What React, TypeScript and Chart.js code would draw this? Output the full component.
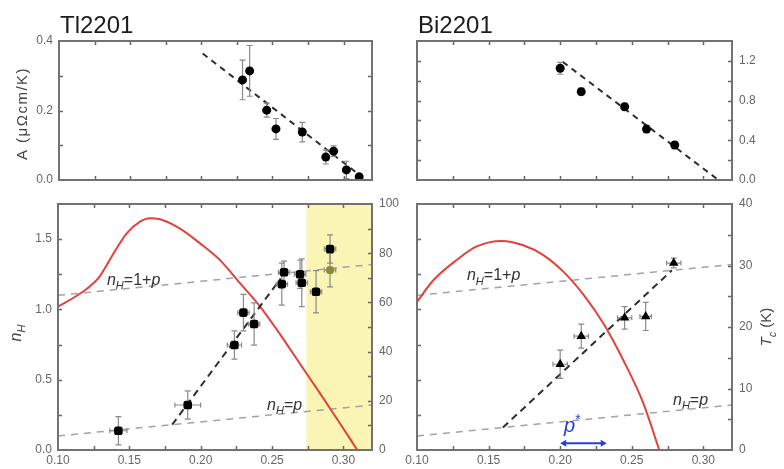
import React, { useEffect, useRef } from "react";
import { Chart, registerables } from "chart.js";

Chart.register(...registerables);

const FONT = "'Liberation Sans', Arial, Helvetica, sans-serif";
const W = 784;
const H = 469;

// ---------------- data ----------------
const pRange = [0.1, 0.32];

// Tl2201, A coefficient
const tlP = [0.229, 0.234, 0.246, 0.2525, 0.271, 0.2875, 0.293, 0.302, 0.311];
const tlA = [0.288, 0.314, 0.201, 0.147, 0.138, 0.066, 0.083, 0.029, 0.009];
const tlAErr = [0.057, 0.073, 0.02, 0.03, 0.028, 0.02, 0.015, 0.025, 0.008];
const tlFitP = [0.201, 0.312];
const tlFitA = [0.364, 0.012];

// Bi2201, A coefficient
const trP = [0.2, 0.2147, 0.245, 0.2603, 0.28];
const trA = [1.125, 0.89, 0.738, 0.513, 0.352];
const trAErr = [0.06, 0.035, 0.035, 0.035, 0.035];
const trFitP = [0.2018, 0.3105];
const trFitA = [1.19, 0.0];

// Tl2201, nH
const blP = [0.1423, 0.1909, 0.2236, 0.2299, 0.2374, 0.2568, 0.2584, 0.2696, 0.2708, 0.2808, 0.2906];
const blN = [0.137, 0.32, 0.747, 0.977, 0.896, 1.18, 1.264, 1.25, 1.19, 1.126, 1.43];
const blNErr = [0.1, 0.1, 0.1, 0.13, 0.15, 0.15, 0.08, 0.1, 0.17, 0.15, 0.1];
const blPErr = [0.006, 0.009, 0.005, 0.004, 0.004, 0.004, 0.004, 0.004, 0.004, 0.004, 0.004];
const blOliveP = [0.2906];
const blOliveN = [1.28];
const blOliveNErr = [0.12];
const blOlivePErr = [0.004];
const blTcP = [0.1, 0.114, 0.122, 0.129, 0.139, 0.148, 0.1575, 0.1645, 0.1715, 0.1855, 0.1995, 0.2135, 0.2275, 0.2416, 0.2556, 0.2696, 0.2836, 0.2976, 0.3097];
const blTc = [58.3, 63, 66.4, 70.4, 80, 88, 92.8, 94.2, 93.8, 90, 84, 77.2, 67.8, 58.3, 47, 35, 23, 10.8, 0];
const blFitP = [0.18, 0.256];
const blFitN = [0.18, 1.22];
const blBandStart = 0.274;

// Bi2201, nH
const brP = [0.2, 0.2147, 0.245, 0.2597, 0.2793];
const brN = [0.61, 0.81, 0.94, 0.95, 1.33];
const brNErr = [0.1, 0.085, 0.08, 0.1, 0.035];
const brPErr = [0.005, 0.005, 0.005, 0.004, 0.005];
const brTcP = [0.1, 0.1114, 0.1277, 0.1417, 0.159, 0.1742, 0.1882, 0.2022, 0.2161, 0.2301, 0.2441, 0.2581, 0.2692];
const brTc = [24.1, 27.6, 30.9, 33.1, 34.0, 33.3, 31.7, 29.0, 25.3, 20.6, 14.6, 7.6, 0];
const brFitP = [0.16, 0.278];
const brFitN = [0.16, 1.278];
const pStarRange = [0.2, 0.2325];

// guide lines nH = 1 + p and nH = p
const guideP = [0.1, 0.32];
const guideOnePlusP = [1.1, 1.32];
const guideEqualP = [0.1, 0.32];

// ticks
const xTickLabels = [0.1, 0.15, 0.2, 0.25, 0.3];
const xTickMarks = [0.125, 0.15, 0.175, 0.2, 0.225, 0.25, 0.275, 0.3];
const tlYLabels = [0, 0.2, 0.4];
const tlYMarks = [0.1, 0.2, 0.3];
const trYLabels = [0, 0.4, 0.8, 1.2];
const trYMarks = [0.2, 0.4, 0.6, 0.8, 1.0, 1.2];
const nHLabels = [0, 0.5, 1.0, 1.5];
const nHMarks = [0.25, 0.5, 0.75, 1.0, 1.25, 1.5];
const tcTlLabels = [0, 20, 40, 60, 80, 100];
const tcTlMarks = [10, 20, 30, 40, 50, 60, 70, 80, 90];
const tcBiLabels = [0, 10, 20, 30, 40];
const tcBiMarks = [5, 10, 15, 20, 25, 30, 35];

// ---------------- helpers ----------------
const xy = (xs: number[], ys: number[]) => xs.map((x, i) => ({ x, y: ys[i] }));

type Seg = { t: string; it?: boolean; sub?: boolean; sup?: boolean };

function rich(
  ctx: CanvasRenderingContext2D,
  segs: Seg[],
  x: number,
  y: number,
  size: number,
  color: string,
  align: "left" | "center" = "left",
  rot = 0,
  vOff = 0,
  spacing = 0
) {
  ctx.save();
  ctx.translate(x, y);
  ctx.rotate(rot);
  ctx.fillStyle = color;
  ctx.textBaseline = "alphabetic";
  ctx.textAlign = "left";
  (ctx as any).letterSpacing = `${spacing}px`;
  const fontOf = (s: Seg) => `${s.it ? "italic " : ""}${s.sub || s.sup ? Math.round(size * 0.68) : size}px ${FONT}`;
  let total = 0;
  const widths = segs.map((s) => {
    ctx.font = fontOf(s);
    const w = ctx.measureText(s.t).width;
    total += w;
    return w;
  });
  let cx = align === "center" ? -total / 2 : 0;
  segs.forEach((s, i) => {
    ctx.font = fontOf(s);
    const dy = s.sub ? size * 0.28 : s.sup ? -size * 0.42 : 0;
    ctx.fillText(s.t, cx, vOff + dy);
    cx += widths[i];
  });
  ctx.restore();
}

type Axis = { id: string; min: number; max: number; labels: number[] | null; dec: number; marks: number[] };

type Spec = {
  area: { l: number; t: number; r: number; b: number };
  xLabels: boolean;
  left: Axis;
  right: Axis;
  rightIsLeft?: boolean;
  band?: number;
  datasets: any[];
  texts: (chart: any, ctx: CanvasRenderingContext2D) => void;
};

const AXW = 40;
const AXH = 19;
const TICKCOL = "#666";

function yScaleCfg(ax: Axis, pos: "left" | "right") {
  return {
    type: "linear",
    position: pos,
    min: ax.min,
    max: ax.max,
    grid: { display: false, drawTicks: false },
    border: { display: false },
    ticks: {
      display: !!ax.labels,
      padding: pos === "left" ? 6 : 7,
      color: TICKCOL,
      font: { family: FONT, size: 12 },
      callback: (v: any) => Number(v).toFixed(ax.dec),
    },
    afterBuildTicks: (s: any) => {
      s.ticks = (ax.labels || [ax.min, ax.max]).map((v) => ({ value: v }));
    },
    afterFit: (s: any) => {
      s.width = ax.labels ? AXW : 0;
    },
  };
}

function makeConfig(spec: Spec): any {
  const { l, t, r, b } = spec.area;
  const scales: any = {
    x: {
      type: "linear",
      position: "bottom",
      min: pRange[0],
      max: pRange[1],
      grid: { display: false, drawTicks: false },
      border: { display: false },
      ticks: {
        display: spec.xLabels,
        padding: 3,
        color: TICKCOL,
        font: { family: FONT, size: 12 },
        callback: (v: any) => Number(v).toFixed(2),
      },
      afterBuildTicks: (s: any) => {
        s.ticks = xTickLabels.map((v) => ({ value: v }));
      },
      afterFit: (s: any) => {
        s.height = spec.xLabels ? AXH : 0;
      },
    },
  };
  let leftW = 0;
  let rightW = 0;
  if (spec.left.id === spec.right.id) {
    const pos = spec.rightIsLeft ? "right" : "left";
    const ax = pos === "left" ? spec.left : spec.right;
    scales[ax.id] = yScaleCfg(ax, pos);
    if (pos === "left") leftW = ax.labels ? AXW : 0;
    else rightW = ax.labels ? AXW : 0;
  } else {
    scales[spec.left.id] = yScaleCfg(spec.left, "left");
    scales[spec.right.id] = yScaleCfg(spec.right, "right");
    leftW = spec.left.labels ? AXW : 0;
    rightW = spec.right.labels ? AXW : 0;
  }

  const decor = {
    id: "decor",
    beforeDatasetsDraw(chart: any) {
      if (spec.band === undefined) return;
      const ctx = chart.ctx;
      const a = chart.chartArea;
      const x0 = chart.scales.x.getPixelForValue(spec.band);
      ctx.save();
      ctx.fillStyle = "#faf5b4";
      ctx.fillRect(x0, a.top, a.right - x0, a.bottom - a.top);
      ctx.restore();
    },
    beforeDatasetDraw(chart: any, args: any) {
      const ds = chart.data.datasets[args.index];
      if (!ds.yErr && !ds.xErr) return;
      const ctx = chart.ctx;
      const xs = chart.scales[args.meta.xAxisID];
      const ys = chart.scales[args.meta.yAxisID];
      ctx.save();
      ctx.strokeStyle = "#8a8a8a";
      ctx.lineWidth = 1.2;
      ds.data.forEach((d: any, i: number) => {
        const px = xs.getPixelForValue(d.x);
        const py = ys.getPixelForValue(d.y);
        ctx.beginPath();
        if (ds.yErr) {
          const y1 = ys.getPixelForValue(d.y + ds.yErr[i]);
          const y2 = ys.getPixelForValue(d.y - ds.yErr[i]);
          ctx.moveTo(px, y1);
          ctx.lineTo(px, y2);
          ctx.moveTo(px - 3, y1);
          ctx.lineTo(px + 3, y1);
          ctx.moveTo(px - 3, y2);
          ctx.lineTo(px + 3, y2);
        }
        if (ds.xErr) {
          const x1 = xs.getPixelForValue(d.x - ds.xErr[i]);
          const x2 = xs.getPixelForValue(d.x + ds.xErr[i]);
          ctx.moveTo(x1, py);
          ctx.lineTo(x2, py);
          ctx.moveTo(x1, py - 2.5);
          ctx.lineTo(x1, py + 2.5);
          ctx.moveTo(x2, py - 2.5);
          ctx.lineTo(x2, py + 2.5);
        }
        ctx.stroke();
      });
      ctx.restore();
    },
    afterDraw(chart: any) {
      const ctx: CanvasRenderingContext2D = chart.ctx;
      const a = chart.chartArea;
      ctx.save();
      ctx.strokeStyle = "#666";
      ctx.lineWidth = 1.5;
      ctx.beginPath();
      const xs = chart.scales.x;
      xTickMarks.forEach((v) => {
        const px = Math.round(xs.getPixelForValue(v)) + 0.5;
        ctx.moveTo(px, a.bottom);
        ctx.lineTo(px, a.bottom - 4);
        ctx.moveTo(px, a.top);
        ctx.lineTo(px, a.top + 4);
      });
      const ls = chart.scales[spec.left.id];
      spec.left.marks.forEach((v) => {
        const py = Math.round(ls.getPixelForValue(v)) + 0.5;
        ctx.moveTo(a.left, py);
        ctx.lineTo(a.left + 4, py);
      });
      const rs = chart.scales[spec.right.id];
      spec.right.marks.forEach((v) => {
        const py = Math.round(rs.getPixelForValue(v)) + 0.5;
        ctx.moveTo(a.right, py);
        ctx.lineTo(a.right - 4, py);
      });
      ctx.stroke();
      ctx.strokeStyle = "#727272";
      ctx.lineWidth = 2;
      ctx.strokeRect(a.left, a.top, a.right - a.left, a.bottom - a.top);
      ctx.restore();
      spec.texts(chart, ctx);
    },
  };

  return {
    type: "scatter",
    data: { datasets: spec.datasets },
    options: {
      responsive: false,
      maintainAspectRatio: false,
      animation: false,
      devicePixelRatio: 1,
      events: [],
      layout: {
        padding: { left: l - leftW, right: W - r - rightW, top: t, bottom: H - b - (spec.xLabels ? AXH : 0) },
      },
      plugins: { legend: { display: false }, tooltip: { enabled: false }, title: { display: false } },
      scales,
    },
    plugins: [decor],
  };
}

const pointsDs = (xs: number[], ys: number[], yErr: number[] | null, xErr: number[] | null, style: string, radius: number, color = "#000", yAxisID = "y") => ({
  data: xy(xs, ys),
  yErr,
  xErr,
  yAxisID,
  showLine: false,
  pointStyle: style,
  pointRadius: radius,
  pointBackgroundColor: color,
  pointBorderColor: color,
  pointBorderWidth: 0,
});

const lineDs = (xs: number[], ys: number[], color: string, width: number, dash: number[], yAxisID = "y", smooth = false) => ({
  data: xy(xs, ys),
  yAxisID,
  showLine: true,
  borderColor: color,
  borderWidth: width,
  borderDash: dash,
  pointRadius: 0,
  fill: false,
  cubicInterpolationMode: smooth ? "monotone" : "default",
  tension: smooth ? 0.4 : 0,
});

const RED = "#e4413c";
const GRAYDASH = "#a3a3a3";
const BLACKDASH = "#2e2e2e";

const nH1p: Seg[] = [{ t: "n", it: true }, { t: "H", it: true, sub: true }, { t: "=1+" }, { t: "p", it: true }];
const nHp: Seg[] = [{ t: "n", it: true }, { t: "H", it: true, sub: true }, { t: "=" }, { t: "p", it: true }];

const at = (chart: any, p: number, v: number, id = "y") => [chart.scales.x.getPixelForValue(p), chart.scales[id].getPixelForValue(v)];

const specs: Spec[] = [
  {
    area: { l: 59, t: 41, r: 372, b: 180 },
    xLabels: false,
    left: { id: "y", min: 0, max: 0.4, labels: tlYLabels, dec: 1, marks: tlYMarks },
    right: { id: "y", min: 0, max: 0.4, labels: null, dec: 1, marks: tlYMarks },
    datasets: [
      pointsDs(tlP, tlA, tlAErr, null, "circle", 4.5),
      lineDs(tlFitP, tlFitA, BLACKDASH, 2, [6, 5]),
    ],
    texts: (chart, ctx) => {
      const a = chart.chartArea;
      rich(ctx, [{ t: "Tl2201" }], a.left + 1, 33, 24, "#1c1c1c");
      rich(ctx, [{ t: "A (μΩcm/K)" }], 22, (a.top + a.bottom) / 2 + 3, 15, "#444", "center", -Math.PI / 2, 15 * 0.36, 1.5);
    },
  },
  {
    area: { l: 417, t: 41, r: 732, b: 180 },
    xLabels: false,
    rightIsLeft: true,
    left: { id: "y", min: 0, max: 1.4, labels: null, dec: 1, marks: trYMarks },
    right: { id: "y", min: 0, max: 1.4, labels: trYLabels, dec: 1, marks: trYMarks },
    datasets: [
      pointsDs(trP, trA, trAErr, null, "circle", 4.5),
      lineDs(trFitP, trFitA, BLACKDASH, 2, [6, 5]),
    ],
    texts: (chart, ctx) => {
      const a = chart.chartArea;
      rich(ctx, [{ t: "Bi2201" }], a.left + 1, 33, 24, "#1c1c1c");
    },
  },
  {
    area: { l: 58, t: 204, r: 372, b: 450 },
    xLabels: true,
    band: blBandStart,
    left: { id: "y", min: 0, max: 1.75, labels: nHLabels, dec: 1, marks: nHMarks },
    right: { id: "y2", min: 0, max: 100, labels: tcTlLabels, dec: 0, marks: tcTlMarks },
    datasets: [
      pointsDs(blP, blN, blNErr, blPErr, "rectRounded", 5),
      pointsDs(blOliveP, blOliveN, blOliveNErr, blOlivePErr, "rectRounded", 4.5, "#8c8a34"),
      lineDs(blFitP, blFitN, BLACKDASH, 2, [7, 5]),
      lineDs(blTcP, blTc, RED, 2, [], "y2", true),
      lineDs(guideP, guideOnePlusP, GRAYDASH, 1.5, [7, 6]),
      lineDs(guideP, guideEqualP, GRAYDASH, 1.5, [7, 6]),
    ],
    texts: (chart, ctx) => {
      const a = chart.chartArea;
      let [x, y] = at(chart, 0.1343, 1.174);
      rich(ctx, nH1p, x, y, 16, "#333");
      [x, y] = at(chart, 0.2465, 0.285);
      rich(ctx, nHp, x, y, 16, "#333");
      rich(ctx, [{ t: "n", it: true }, { t: "H", it: true, sub: true }], 16, (a.top + a.bottom) / 2 + 6, 16, "#444", "center", -Math.PI / 2, 16 * 0.3);
    },
  },
  {
    area: { l: 417, t: 204, r: 732, b: 450 },
    xLabels: true,
    left: { id: "y", min: 0, max: 1.75, labels: null, dec: 1, marks: nHMarks },
    right: { id: "y2", min: 0, max: 40, labels: tcBiLabels, dec: 0, marks: tcBiMarks },
    datasets: [
      pointsDs(brP, brN, brNErr, brPErr, "triangle", 5.5),
      lineDs(brFitP, brFitN, BLACKDASH, 2, [7, 5]),
      lineDs(brTcP, brTc, RED, 2, [], "y2", true),
      lineDs(guideP, guideOnePlusP, GRAYDASH, 1.5, [7, 6]),
      lineDs(guideP, guideEqualP, GRAYDASH, 1.5, [7, 6]),
    ],
    texts: (chart, ctx) => {
      const a = chart.chartArea;
      let [x, y] = at(chart, 0.1349, 1.209);
      rich(ctx, nH1p, x, y, 16, "#333");
      [x, y] = at(chart, 0.2788, 0.32);
      rich(ctx, nHp, x, y, 16, "#333");
      const [x1, ya] = at(chart, pStarRange[0], 0.048);
      const [x2] = at(chart, pStarRange[1], 0.048);
      ctx.save();
      ctx.strokeStyle = "#2540d8";
      ctx.fillStyle = "#2540d8";
      ctx.lineWidth = 2;
      ctx.beginPath();
      ctx.moveTo(x1 + 3, ya);
      ctx.lineTo(x2 - 3, ya);
      ctx.stroke();
      ctx.beginPath();
      ctx.moveTo(x1, ya);
      ctx.lineTo(x1 + 6, ya - 3.5);
      ctx.lineTo(x1 + 6, ya + 3.5);
      ctx.closePath();
      ctx.moveTo(x2, ya);
      ctx.lineTo(x2 - 6, ya - 3.5);
      ctx.lineTo(x2 - 6, ya + 3.5);
      ctx.closePath();
      ctx.fill();
      ctx.restore();
      [x, y] = at(chart, 0.2085, 0.128);
      rich(ctx, [{ t: "p", it: true }, { t: "*", sup: true }], x, y, 20, "#2540d8", "center");
      rich(ctx, [{ t: "T", it: true }, { t: "c", it: true, sub: true }, { t: " (K)" }], 766, (a.top + a.bottom) / 2, 15, "#444", "center", -Math.PI / 2, 15 * 0.36);
    },
  },
];

export default function App() {
  const refs = useRef<(HTMLCanvasElement | null)[]>([]);
  useEffect(() => {
    const charts = specs.map((s, i) => new Chart(refs.current[i] as HTMLCanvasElement, makeConfig(s)));
    return () => charts.forEach((c) => c.destroy());
  }, []);
  return (
    <div style={{ position: "absolute", left: 0, top: 0, width: W, height: H, background: "#fff" }}>
      {specs.map((_, i) => (
        <canvas
          key={i}
          ref={(el) => {
            refs.current[i] = el;
          }}
          width={W}
          height={H}
          style={{ position: "absolute", left: 0, top: 0, width: W, height: H }}
        />
      ))}
    </div>
  );
}
